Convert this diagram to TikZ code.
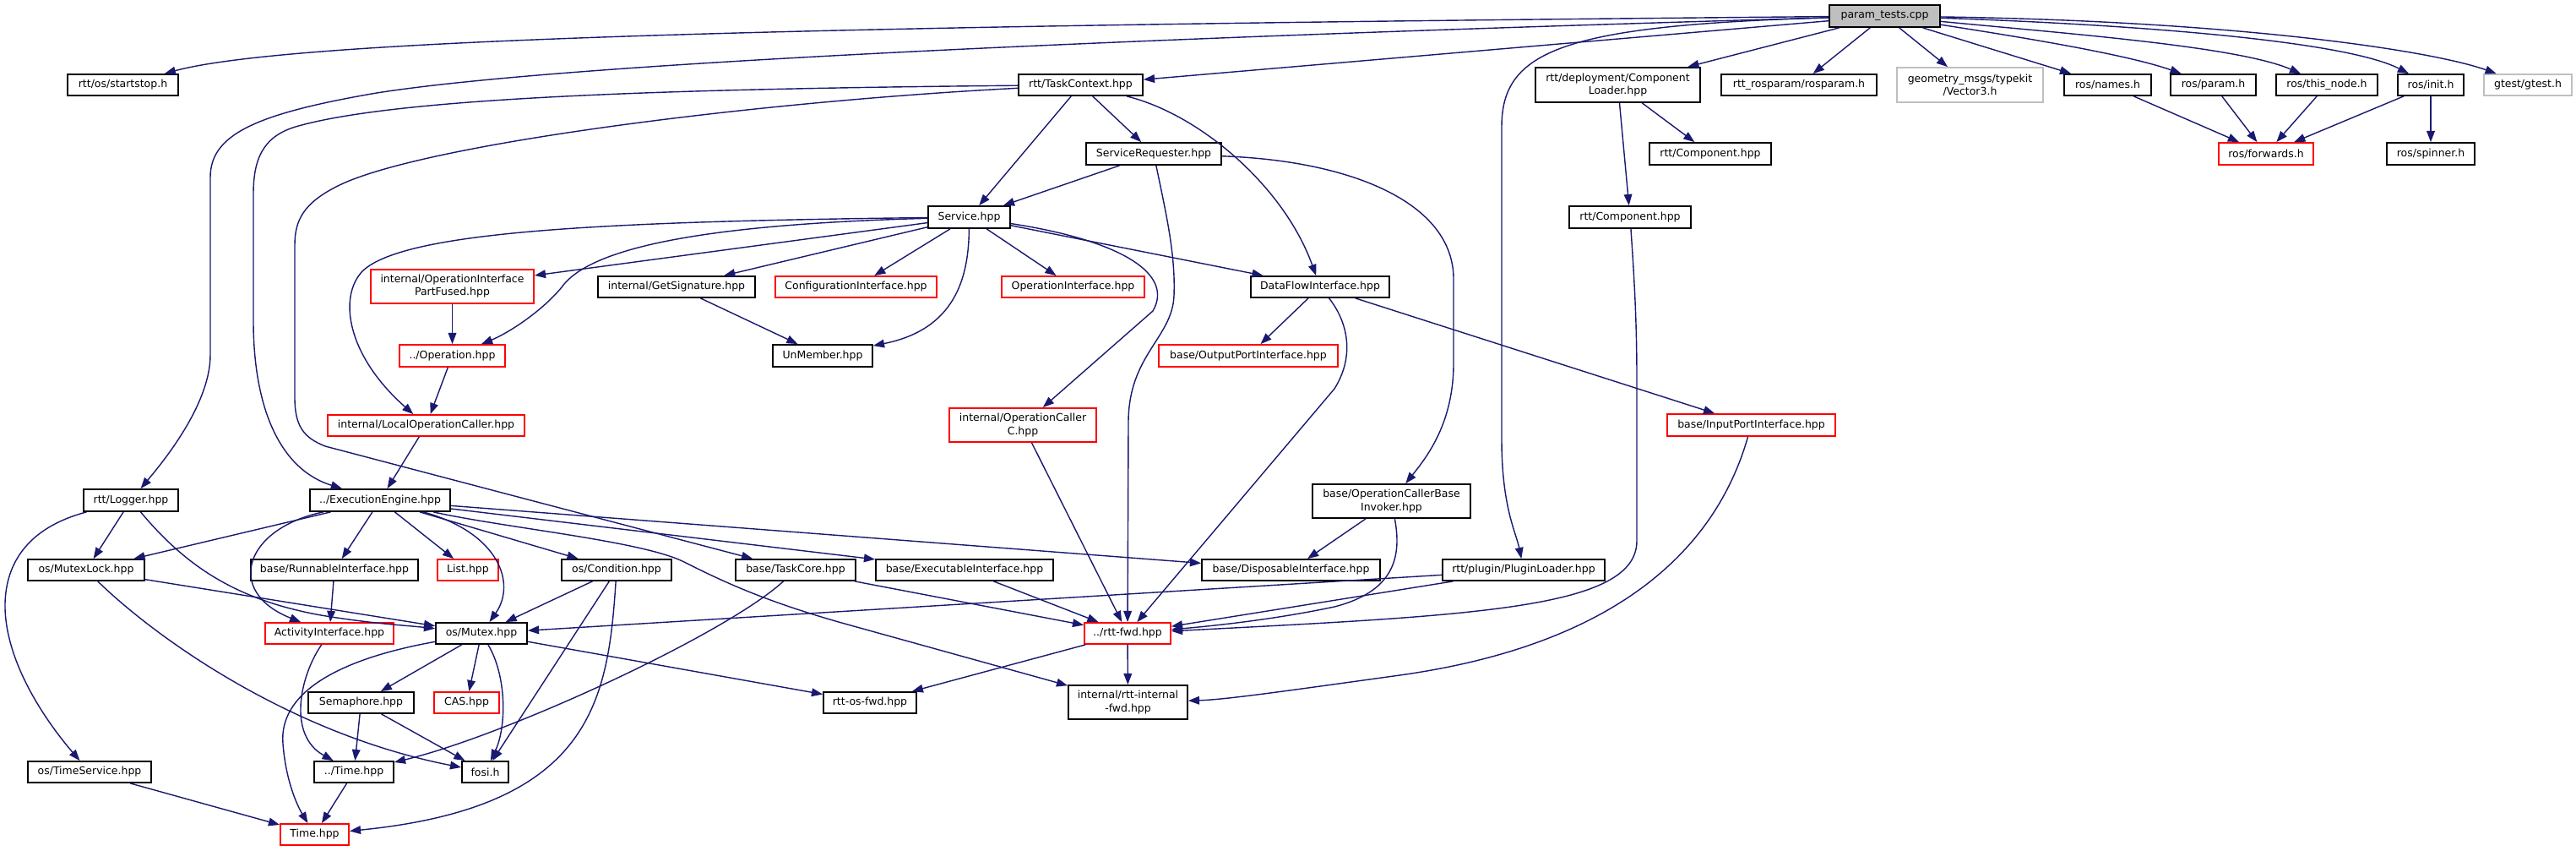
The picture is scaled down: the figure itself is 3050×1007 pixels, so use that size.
\documentclass[tikz,border=0pt]{standalone}
\usepackage{fontspec}
\setmainfont{DejaVu Sans}
\usetikzlibrary{arrows.meta}
\definecolor{midblue}{HTML}{191970}
\definecolor{grey75}{HTML}{BFBFBF}
\newcommand\dxfont{\fontsize{7.1}{8.6}\selectfont}
\tikzset{
  box/.style={draw=black, fill=white, line width=1pt, inner sep=0pt, font=\dxfont, align=center},
  redbox/.style={box, draw=red},
  graybox/.style={box, draw=grey75},
  sz/.style 2 args={minimum width=#1*0.02cm, minimum height=#2*0.02cm},
  dep/.style={draw=midblue, line width=0.8pt, -{Triangle[length=7.5pt,width=5.5pt]}},
}
\begin{document}
\begin{tikzpicture}[x=0.02cm, y=-0.02cm]
\fill[white] (0,0) rectangle (3050,1007);
\useasboundingbox (0,0) rectangle (3050,1007);
% nodes
\node[box, fill=grey75, sz={131}{26}] (param) at (2231.5,19) {param\_tests.cpp};
\node[box, sz={131}{25}] (startstop) at (145.5,100.5) {rtt/os/startstop.h};
\node[box, sz={147}{25}] (taskctx) at (1279.5,100.5) {rtt/TaskContext.hpp};
\node[box, sz={195}{41}] (comploader) at (1915.5,100.5) {rtt/deployment/Component\\Loader.hpp};
\node[box, sz={184}{25}] (rosparam) at (2130,100.5) {rtt\_rosparam/rosparam.h};
\node[graybox, sz={173}{41}] (vec3) at (2332.5,100.5) {geometry\_msgs/typekit\\/Vector3.h};
\node[box, sz={103}{25}] (names) at (2495.5,100.5) {ros/names.h};
\node[box, sz={101}{25}] (rparam) at (2620.5,100.5) {ros/param.h};
\node[box, sz={120}{25}] (thisnode) at (2755,100.5) {ros/this\_node.h};
\node[box, sz={78}{25}] (rinit) at (2878,100.5) {ros/init.h};
\node[graybox, sz={104}{25}] (gtest) at (2993,100.5) {gtest/gtest.h};

\node[box, sz={160}{26}] (servreq) at (1366,182) {ServiceRequester.hpp};
\node[box, sz={144}{26}] (compU) at (2025,182) {rtt/Component.hpp};
\node[redbox, sz={112}{26}] (fwds) at (2683,182) {ros/forwards.h};
\node[box, sz={104}{26}] (spinner) at (2878,182) {ros/spinner.h};

\node[box, sz={97}{26}] (service) at (1147.5,257) {Service.hpp};
\node[box, sz={144}{26}] (compL) at (1930,257) {rtt/Component.hpp};

\node[redbox, sz={193}{40}] (oipf) at (535.5,339) {internal/OperationInterface\\PartFused.hpp};
\node[box, sz={186}{25}] (getsig) at (801,339.5) {internal/GetSignature.hpp};
\node[redbox, sz={191}{25}] (configif) at (1013.5,339.5) {ConfigurationInterface.hpp};
\node[redbox, sz={169}{25}] (opif) at (1270.5,339.5) {OperationInterface.hpp};
\node[box, sz={164}{25}] (dataflow) at (1563,339.5) {DataFlowInterface.hpp};

\node[redbox, sz={125}{26}] (operation) at (535.5,421) {../Operation.hpp};
\node[box, sz={118}{26}] (unmember) at (974,421) {UnMember.hpp};
\node[redbox, sz={212}{26}] (outport) at (1478,421) {base/OutputPortInterface.hpp};

\node[redbox, sz={233}{25}] (loc) at (504.5,503.5) {internal/LocalOperationCaller.hpp};
\node[redbox, sz={174}{40}] (opcallerc) at (1211,503) {internal/OperationCaller\\C.hpp};
\node[redbox, sz={199}{26}] (inport) at (2073.5,503) {base/InputPortInterface.hpp};

\node[box, sz={112}{26}] (logger) at (155,592) {rtt/Logger.hpp};
\node[box, sz={166}{26}] (execeng) at (450,592) {../ExecutionEngine.hpp};
\node[box, sz={187}{40}] (invoker) at (1647.5,593) {base/OperationCallerBase\\Invoker.hpp};

\node[box, sz={138}{25}] (mutexlock) at (102,674.5) {os/MutexLock.hpp};
\node[box, sz={198}{25}] (runnable) at (396,674.5) {base/RunnableInterface.hpp};
\node[redbox, sz={72}{25}] (listh) at (554,674.5) {List.hpp};
\node[box, sz={130}{25}] (condition) at (730,674.5) {os/Condition.hpp};
\node[box, sz={142}{25}] (taskcore) at (942,674.5) {base/TaskCore.hpp};
\node[box, sz={210}{25}] (execif) at (1142,674.5) {base/ExecutableInterface.hpp};
\node[box, sz={211}{25}] (dispif) at (1528.5,674.5) {base/DisposableInterface.hpp};
\node[box, sz={192}{25}] (pluginld) at (1804,674.5) {rtt/plugin/PluginLoader.hpp};

\node[redbox, sz={152}{25}] (activity) at (390,749.5) {ActivityInterface.hpp};
\node[box, sz={108}{25}] (mutex) at (570,749.5) {os/Mutex.hpp};
\node[redbox, sz={102}{25}] (rttfwd) at (1335,749.5) {../rtt-fwd.hpp};

\node[box, sz={125}{25}] (semaphore) at (427.5,831.5) {Semaphore.hpp};
\node[redbox, sz={77}{25}] (cas) at (552.5,831.5) {CAS.hpp};
\node[box, sz={110}{25}] (osfwd) at (1030,831.5) {rtt-os-fwd.hpp};
\node[box, sz={141}{40}] (intfwd) at (1335.5,831) {internal/rtt-internal\\-fwd.hpp};

\node[box, sz={146}{25}] (timesvc) at (106,913.5) {os/TimeService.hpp};
\node[box, sz={94}{25}] (timerel) at (419,913.5) {../Time.hpp};
\node[box, sz={55}{25}] (fosi) at (574.5,913.5) {fosi.h};

\node[redbox, sz={81}{25}] (timehpp) at (372.5,987.5) {Time.hpp};

% edges from param_tests.cpp
\draw[dep] (param) .. controls (1000,30) and (350,45) .. (startstop);
\draw[dep] (param) .. controls (1500,40) and (700,70) .. (446,110) .. controls (300,135) and (249,160) .. (249,210) -- (249,420) .. controls (249,480) and (190,550) .. (logger);
\draw[dep] (param) -- (taskctx);
\draw[dep] (param) -- (comploader);
\draw[dep] (param) .. controls (1850,30) and (1778,60) .. (1778,150) -- (1778,520) .. controls (1778,600) and (1795,630) .. (pluginld);
\draw[dep] (param) -- (rosparam);
\draw[dep] (param) -- (vec3);
\draw[dep] (param) -- (names);
\draw[dep] (param) .. controls (2400,45) and (2520,65) .. (rparam);
\draw[dep] (param) .. controls (2450,40) and (2650,55) .. (thisnode);
\draw[dep] (param) .. controls (2550,30) and (2780,50) .. (rinit);
\draw[dep] (param) .. controls (2650,25) and (2880,60) .. (gtest);

\draw[dep] (comploader) -- (compU);
\draw[dep] (comploader) -- (compL);
\draw[dep] (compL) .. controls (1935,330) and (1938,380) .. (1938,450) -- (1938,640) .. controls (1938,720) and (1750,728) .. (rttfwd);

\draw[dep] (names) -- (fwds);
\draw[dep] (rparam) -- (fwds);
\draw[dep] (thisnode) -- (fwds);
\draw[dep] (rinit) -- (fwds);
\draw[dep] (rinit) -- (spinner);

% TaskContext
\draw[dep] (taskctx) -- (service);
\draw[dep] (taskctx) -- (servreq);
\draw[dep] (taskctx) .. controls (1420,135) and (1520,220) .. (dataflow);
\draw[dep] (taskctx) .. controls (800,105) and (470,115) .. (350,150) .. controls (310,162) and (300,190) .. (300,230) -- (300,380) .. controls (300,480) and (330,555) .. (execeng);
\draw[dep] (taskctx) .. controls (900,120) and (500,170) .. (400,220) .. controls (360,240) and (349,260) .. (349,290) -- (349,470) .. controls (349,505) and (360,518) .. (385,528) -- (taskcore);

% ServiceRequester
\draw[dep] (servreq) -- (service);
\draw[dep] (servreq) .. controls (1380,250) and (1392,300) .. (1390,350) .. controls (1388,400) and (1336,420) .. (1336,500) -- (rttfwd);
\draw[dep] (servreq) .. controls (1600,190) and (1721,240) .. (1721,330) -- (1721,430) .. controls (1721,500) and (1690,540) .. (invoker);

% Service
\draw[dep] (service) -- (oipf);
\draw[dep] (service) -- (getsig);
\draw[dep] (service) .. controls (850,265) and (700,290) .. (665,340) .. controls (640,370) and (600,395) .. (operation);
\draw[dep] (service) .. controls (700,262) and (480,275) .. (430,320) .. controls (400,350) and (410,420) .. (loc);
\draw[dep] (service) -- (configif);
\draw[dep] (service) -- (opif);
\draw[dep] (service) .. controls (1147,330) and (1130,390) .. (unmember);
\draw[dep] (service) -- (dataflow);
\draw[dep] (service) .. controls (1330,285) and (1390,325) .. (1365,368) -- (opcallerc);

% DataFlowInterface
\draw[dep] (dataflow) -- (outport);
\draw[dep] (dataflow) -- (inport);
\draw[dep] (dataflow) .. controls (1595,380) and (1605,420) .. (1580,460) -- (rttfwd);

\draw[dep] (opcallerc) -- (rttfwd);
\draw[dep] (invoker) -- (dispif);
\draw[dep] (invoker) .. controls (1660,660) and (1650,700) .. (1580,718) .. controls (1500,735) and (1420,742) .. (rttfwd);
\draw[dep] (pluginld) -- (rttfwd);
\draw[dep] (pluginld) -- (mutex);
\draw[dep] (inport) .. controls (2040,620) and (1950,760) .. (1650,800) .. controls (1520,818) and (1450,828) .. (intfwd);

\draw[dep] (oipf) -- (operation);
\draw[dep] (operation) -- (loc);
\draw[dep] (getsig) -- (unmember);
\draw[dep] (loc) -- (execeng);

% Logger
\draw[dep] (logger) -- (mutexlock);
\draw[dep] (logger) .. controls (220,670) and (280,710) .. (380,728) .. controls (440,738) and (480,740) .. (mutex);
\draw[dep] (logger) .. controls (30,625) and (5,670) .. (6,720) .. controls (8,790) and (60,860) .. (timesvc);

% ExecutionEngine
\draw[dep] (execeng) -- (mutexlock);
\draw[dep] (execeng) -- (runnable);
\draw[dep] (execeng) -- (listh);
\draw[dep] (execeng) -- (condition);
\draw[dep] (execeng) .. controls (590,630) and (612,690) .. (mutex);
\draw[dep] (execeng) .. controls (290,625) and (265,700) .. (activity);
\draw[dep] (execeng) -- (execif);
\draw[dep] (execeng) -- (dispif);
\draw[dep] (execeng) .. controls (600,625) and (760,640) .. (810,665) .. controls (850,685) and (900,710) .. (1000,738) -- (intfwd);

% lower part
\draw[dep] (mutexlock) -- (mutex);
\draw[dep] (mutexlock) .. controls (190,760) and (350,870) .. (fosi);
\draw[dep] (runnable) -- (activity);
\draw[dep] (activity) .. controls (355,800) and (340,870) .. (timerel);
\draw[dep] (condition) -- (mutex);
\draw[dep] (condition) -- (fosi);
\draw[dep] (condition) .. controls (720,830) and (700,955) .. (timehpp);
\draw[dep] (taskcore) .. controls (860,750) and (600,870) .. (timerel);
\draw[dep] (taskcore) -- (rttfwd);
\draw[dep] (execif) -- (rttfwd);
\draw[dep] (mutex) -- (semaphore);
\draw[dep] (mutex) -- (cas);
\draw[dep] (mutex) .. controls (600,800) and (600,860) .. (fosi);
\draw[dep] (mutex) .. controls (400,780) and (330,820) .. (335,880) .. controls (338,920) and (350,950) .. (timehpp);
\draw[dep] (mutex) -- (osfwd);
\draw[dep] (semaphore) -- (timerel);
\draw[dep] (semaphore) -- (fosi);
\draw[dep] (timesvc) -- (timehpp);
\draw[dep] (timerel) -- (timehpp);
\draw[dep] (rttfwd) -- (osfwd);
\draw[dep] (rttfwd) -- (intfwd);
\end{tikzpicture}
\end{document}
